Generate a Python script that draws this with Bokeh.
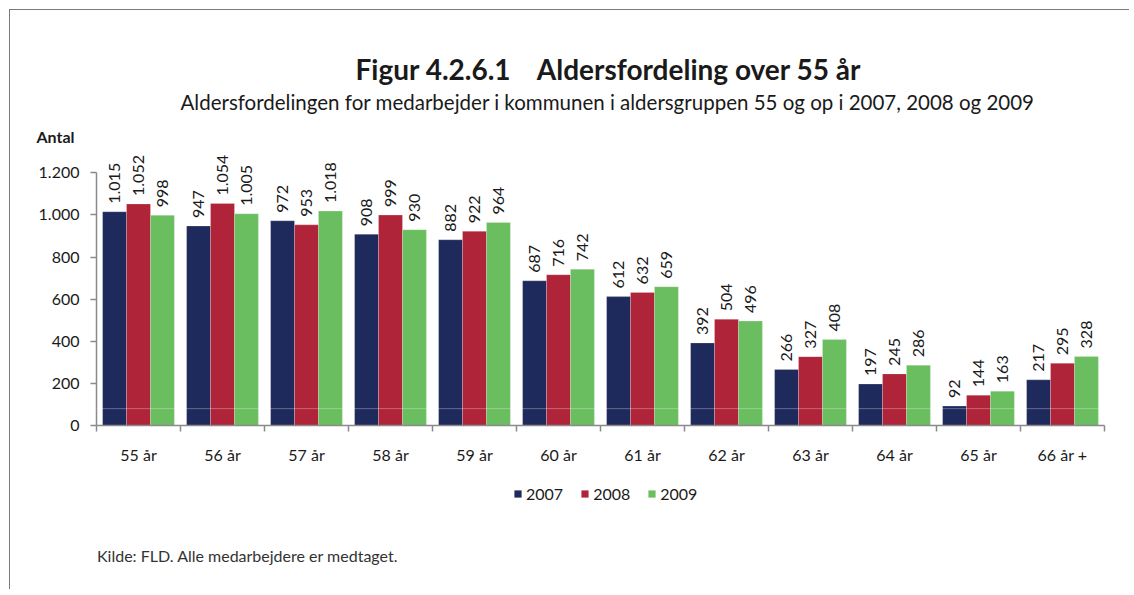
import numpy as np
from bokeh.plotting import figure
from bokeh.layouts import column
from bokeh.models import (ColumnDataSource, FixedTicker, LinearAxis, Range1d,
                          Legend, LegendItem, Title, Span, Label)
from bokeh.core.properties import value
from bokeh.embed import file_html
from bokeh.resources import INLINE

categories = ["55 år", "56 år", "57 år", "58 år", "59 år", "60 år",
              "61 år", "62 år", "63 år", "64 år", "65 år", "66 år +"]
years = ["2007", "2008", "2009"]
v2007 = [1015, 947, 972, 908, 882, 687, 612, 392, 266, 197, 92, 217]
v2008 = [1052, 1054, 953, 999, 922, 716, 632, 504, 327, 245, 144, 295]
v2009 = [998, 1005, 1018, 930, 964, 742, 659, 496, 408, 286, 163, 328]
y_ticks = [0, 200, 400, 600, 800, 1000, 1200]

colors = ["#1F2A5C", "#B0243A", "#6BBE5F"]
FONT = "Lato"
TXT = "#1a1a1a"
BORDER = "1.5px solid #7a7a7a"


def dk(n):
    return f"{n:,}".replace(",", ".")


p = figure(width=1120, height=465, output_backend="svg", toolbar_location=None,
           x_range=Range1d(0, 12), y_range=Range1d(0, 1320),
           x_axis_location=None, y_axis_location=None,
           min_border_left=86, min_border_right=26,
           min_border_top=137, min_border_bottom=50,
           outline_line_color=None,
           styles={"border-top": BORDER, "border-left": BORDER,
                   "margin": "9px 0 0 9px"})
p.grid.visible = False

yax = LinearAxis(ticker=FixedTicker(ticks=y_ticks), bounds=(0, 1200),
                 major_label_overrides={t: dk(t) for t in y_ticks})
xax1 = LinearAxis(ticker=FixedTicker(ticks=list(range(13))),
                  major_label_overrides={i: " " for i in range(13)})
xax2 = LinearAxis(ticker=FixedTicker(ticks=[i + 0.5 for i in range(12)]),
                  major_label_overrides={i + 0.5: c for i, c in enumerate(categories)})
for ax in (yax, xax1, xax2):
    ax.minor_tick_line_color = None
    ax.axis_line_color = "#8a8a8a"
    ax.axis_line_width = 1.5
    ax.major_tick_line_color = "#8a8a8a"
    ax.major_tick_line_width = 1.5
    ax.major_tick_in = 0
    ax.major_tick_out = 6
    ax.major_label_text_font = FONT
    ax.major_label_text_font_size = "16px"
    ax.major_label_text_color = TXT
yax.major_label_standoff = 11
xax1.major_label_text_font_size = "2px"
xax1.major_label_standoff = 0
xax2.axis_line_color = None
xax2.major_tick_line_color = None
xax2.major_tick_out = 0
xax2.major_label_standoff = 8
p.add_layout(yax, "left")
p.add_layout(xax1, "below")
p.add_layout(xax2, "below")

bw = 0.285
offsets = [-bw, 0.0, bw]
series = [v2007, v2008, v2009]
sources = []
for yr, vals, off, col in zip(years, series, offsets, colors):
    src = ColumnDataSource(dict(
        x=np.arange(len(categories)) + 0.5 + off,
        top=vals,
        lab=[dk(v) for v in vals],
    ))
    sources.append(src)
    p.vbar(x="x", top="top", width=bw, source=src, fill_color=col,
           line_color="white", line_alpha=0.35, line_width=0.6)
    p.text(x="x", y="top", text="lab", source=src, angle=np.pi / 2,
           text_align="left", text_baseline="middle", y_offset=-8,
           text_font=value(FONT), text_font_size="16px", text_color=TXT)

p.add_layout(Span(location=80, dimension="width", line_color="white",
                  line_alpha=0.3, line_width=1))

antal = Title(text="Antal", align="left", offset=-60, text_font=FONT,
              text_font_size="16px", text_font_style="bold", text_color=TXT,
              standoff=3)
sub = Title(text="Aldersfordelingen for medarbejder i kommunen i aldersgruppen 55 og op i 2007, 2008 og 2009",
            align="left", offset=84, text_font=FONT, text_font_size="20.5px",
            text_font_style="normal", text_color=TXT, standoff=19)
main = Title(text="Figur 4.2.6.1\u00a0\u00a0\u00a0\u00a0Aldersfordeling over 55 år",
             align="left", offset=259, text_font=FONT, text_font_size="28px",
             text_font_style="bold", text_color=TXT, standoff=-14)
p.add_layout(antal, "above")
p.add_layout(sub, "above")
p.add_layout(main, "above")

# lower strip: legend and source note (frame aligned with the chart above)
p2 = figure(width=1120, height=115, output_backend="svg", toolbar_location=None,
            x_range=Range1d(0, 1008), y_range=Range1d(0, 115),
            x_axis_location=None, y_axis_location=None, min_border=0,
            outline_line_color=None,
            styles={"border-left": BORDER, "margin": "0 0 0 9px"})
p2.grid.visible = False
p2.title.visible = False
p2.extra_y_ranges = {"hide": Range1d(5000, 6000)}

items = []
for yr, col, src in zip(years, colors, sources):
    r = p2.vbar(x="x", top="top", width=1, source=src, fill_color=col,
                line_color=None, y_range_name="hide")
    items.append(LegendItem(label=yr, renderers=[r]))

legend = Legend(items=items, orientation="horizontal", location=(417, 86),
                border_line_color=None, background_fill_alpha=0,
                label_text_font=FONT, label_text_font_size="16px",
                label_text_color=TXT, glyph_width=9, glyph_height=9,
                label_standoff=4, spacing=17, padding=4, margin=0)
p2.add_layout(legend)

p2.add_layout(Label(x=0.5, y=34, text="Kilde: FLD. Alle medarbejdere er medtaget.",
                    text_font=FONT, text_font_size="16px", text_color="#333333",
                    text_align="left", text_baseline="middle"))

lay = column(p, p2)
open("out.html", "w").write(file_html(lay, INLINE))
